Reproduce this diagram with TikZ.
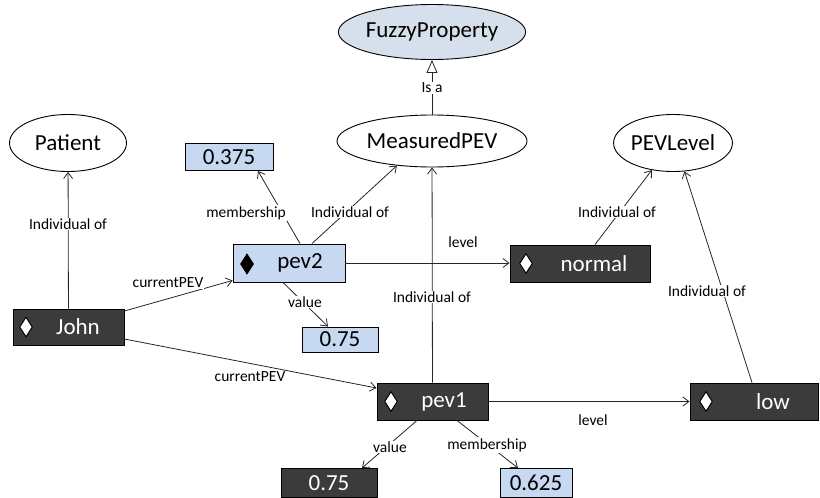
\documentclass[tikz,border=0pt]{standalone}
\usepackage{fontspec}
\setmainfont{Carlito}
\usetikzlibrary{arrows.meta,shapes.geometric}
\definecolor{boxdark}{HTML}{3B3B3B}
\definecolor{boxblue}{HTML}{C6D9F1}
\definecolor{classblue}{HTML}{D6DFEC}
\definecolor{wire}{HTML}{262626}
\tikzset{
  cls/.style={ellipse,draw=black,line width=0.9pt,inner sep=0pt,
    font=\fontsize{23}{25}\selectfont},
  indiv/.style={rectangle,draw=black,line width=0.9pt,fill=boxdark,inner sep=0pt},
  valbox/.style={rectangle,draw=black,line width=0.9pt,fill=boxblue,inner sep=0pt,
    font=\fontsize{23}{25}\selectfont},
  darkval/.style={valbox,fill=boxdark,text=white},
  itext/.style={inner sep=0pt,font=\fontsize{23}{25}\selectfont},
  wmark/.style={diamond,draw=black,line width=1pt,fill=white,inner sep=0pt,
    minimum width=13pt,minimum height=20pt},
  bmark/.style={wmark,fill=black},
  conn/.style={draw=wire,line width=0.8pt,-{Straight Barb[length=6pt,width=9pt,line width=0.8pt]}},
  isa/.style={draw=wire,line width=0.8pt,-{Triangle[open,length=13pt,width=11pt,line width=0.8pt]}},
  lbl/.style={fill=white,inner sep=1pt,font=\fontsize{15.5}{17}\selectfont},
}
\begin{document}
\begin{tikzpicture}[x=1pt,y=-1pt]
\useasboundingbox (0,0) rectangle (820,498);

% classes
\node[cls,fill=classblue,minimum width=180pt,minimum height=55pt] (fuzzy) at (432,32) {FuzzyProperty};
\node[cls,fill=white,minimum width=190pt,minimum height=52pt] (mpev) at (432,141) {MeasuredPEV};
\node[cls,fill=white,minimum width=117pt,minimum height=57pt] (patient) at (68,143) {Patient};
\node[cls,fill=white,minimum width=117pt,minimum height=57pt] (pevlevel) at (673,143) {PEVLevel};

% individuals
\node[indiv,minimum width=111pt,minimum height=36pt] (john) at (68.5,327) {};
\node[wmark] (johnM) at (26,327) {};
\node[itext,text=white] (johnT) at (78,327) {John};

\node[valbox,minimum width=112pt,minimum height=38pt] (pev2) at (289,263) {};
\node[bmark] (pev2M) at (247,264) {};
\node[itext] (pev2T) at (300,263) {pev2};

\node[indiv,minimum width=140pt,minimum height=37pt] (normal) at (580,263.5) {};
\node[wmark] (normalM) at (526,263.5) {};
\node[itext,text=white] (normalT) at (594,263.5) {normal};

\node[indiv,minimum width=111pt,minimum height=37pt] (pev1) at (432.5,401.5) {};
\node[wmark] (pev1M) at (391,401.5) {};
\node[itext,text=white] (pev1T) at (444,401.5) {pev1};

\node[indiv,minimum width=128pt,minimum height=37pt] (low) at (754,401.5) {};
\node[wmark] (lowM) at (706,401.5) {};
\node[itext,text=white] (lowT) at (773,401.5) {low};

% values
\node[valbox,minimum width=88pt,minimum height=27pt] (b375) at (229,157) {0.375};
\node[valbox,minimum width=76pt,minimum height=25pt] (v75b) at (340,339.5) {0.75};
\node[darkval,minimum width=96pt,minimum height=29pt] (v75d) at (329,483) {0.75};
\node[valbox,minimum width=72pt,minimum height=29pt] (v625) at (536,483) {0.625};

% connectors
\draw[isa] (mpev.north) -- (fuzzy.south);
\draw[conn] (john) -- (patient);
\draw[conn] ([yshift=16pt]john.east) -- ([yshift=2pt]pev2.south west);
\draw[conn] ([yshift=-12pt]john.east) -- ([yshift=13.5pt]pev1.west);
\draw[conn] ([xshift=11pt]pev2.north) -- ([xshift=29pt]b375.south);
\draw[conn] ([xshift=23pt]pev2.north) -- (mpev.215);
\draw[conn] ([xshift=-6pt]pev2.south) -- ([xshift=-12pt]v75b.north);
\draw[conn] (pev2.east) -- (pev2.east -| normal.west);
\draw[conn] ([xshift=15pt]normal.north) -- (pevlevel.232);
\draw[conn] (pev1) -- (mpev);
\draw[conn] (pev1.east) -- (pev1.east -| low.west);
\draw[conn] ([xshift=-2pt]low.north) -- (pevlevel.292);
\draw[conn] ([xshift=-15.5pt]pev1.south) -- ([xshift=33pt]v75d.north);
\draw[conn] ([xshift=24.5pt]pev1.south) -- ([xshift=-18pt]v625.north);

% connector labels
\node[lbl] (l1) at (432,88) {Is a};
\node[lbl] (l2) at (68,224) {Individual of};
\node[lbl] (l3) at (168,283) {currentPEV};
\node[lbl] (l4) at (250,377) {currentPEV};
\node[lbl] (l5) at (246,213) {membership};
\node[lbl] (l6) at (350,212) {Individual of};
\node[lbl] (l7) at (305,302) {value};
\node[lbl] (l8) at (463,242) {level};
\node[lbl] (l9) at (617,212) {Individual of};
\node[lbl] (l10) at (432,297) {Individual of};
\node[lbl] (l11) at (707,291) {Individual of};
\node[lbl] (l12) at (390,447) {value};
\node[lbl] (l13) at (487,445) {membership};
\node[lbl] (l14) at (593,420) {level};
\end{tikzpicture}
\end{document}
